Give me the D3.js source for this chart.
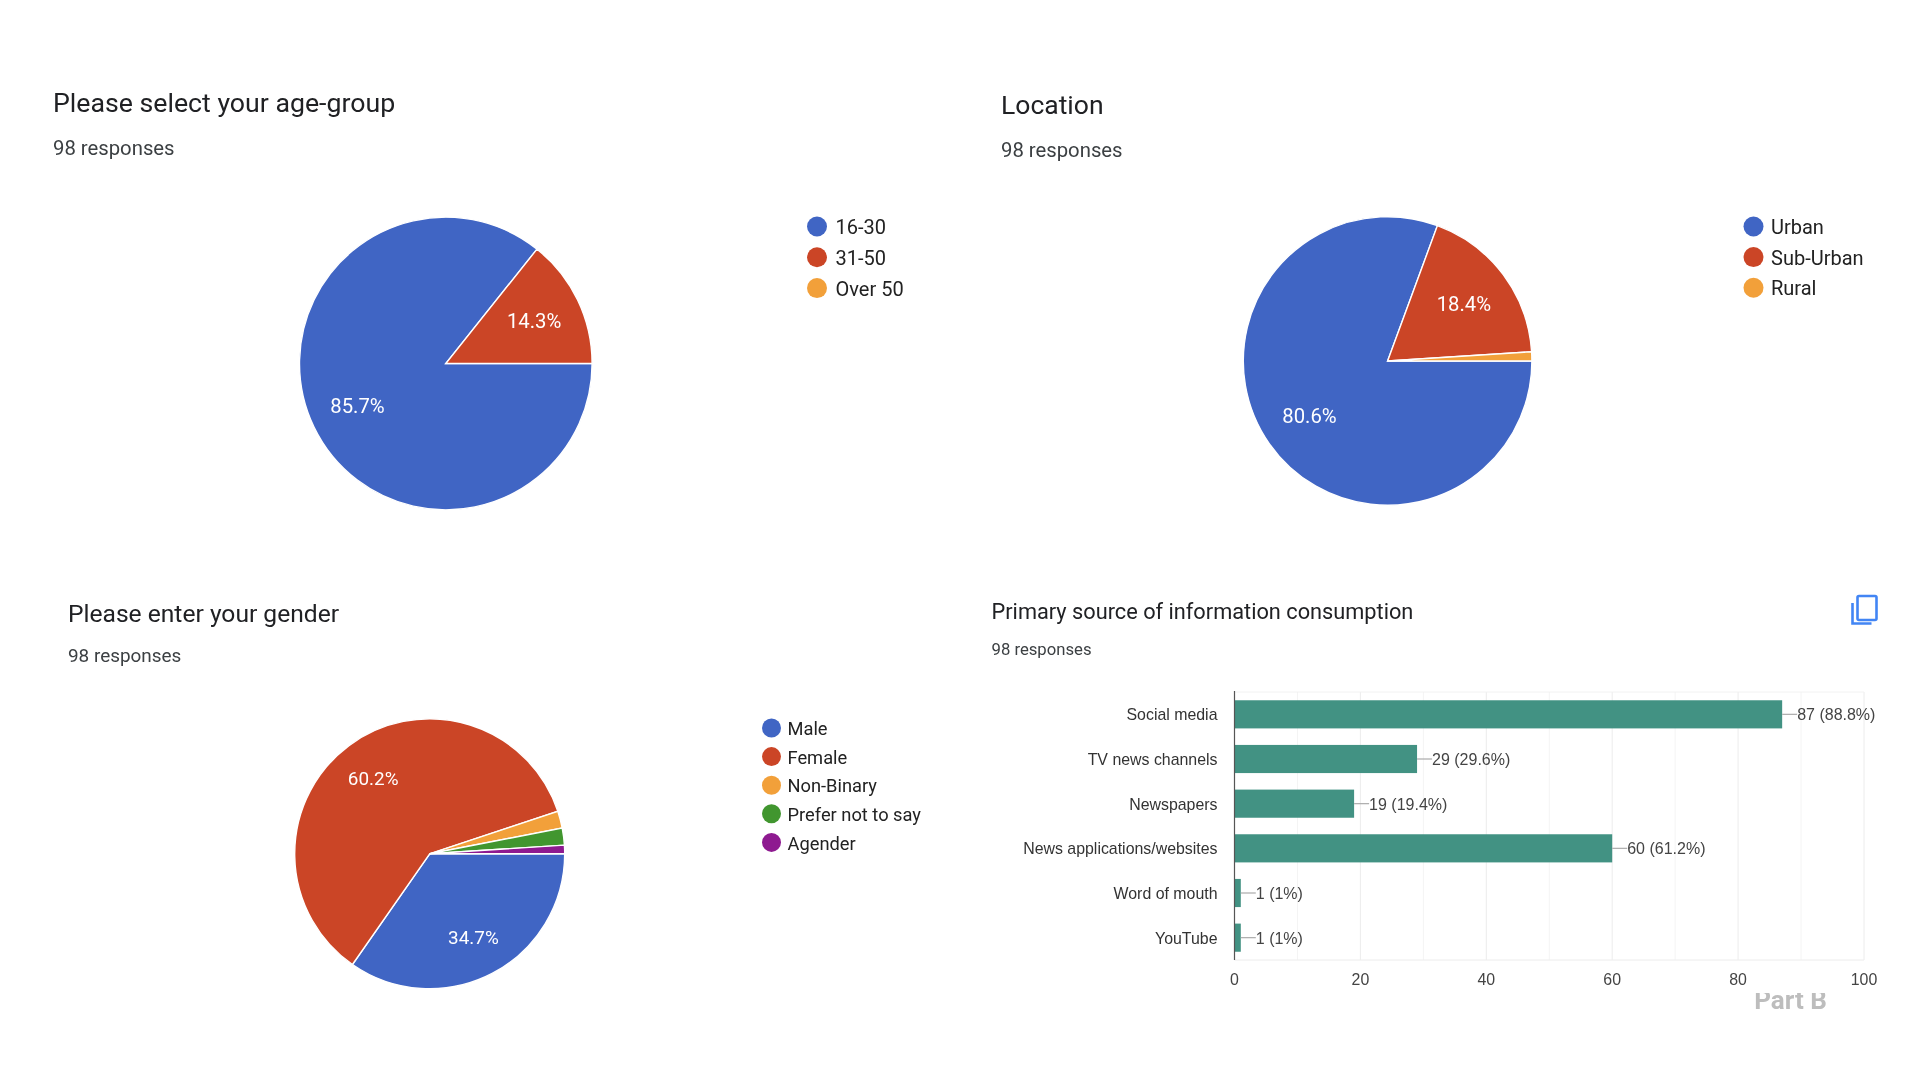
<!DOCTYPE html>
<html><head><meta charset="utf-8">
<script src="https://cdn.jsdelivr.net/npm/d3@7"></script>
<style>html,body{margin:0;background:#fff}svg{display:block;filter:blur(0.45px)}text{font-family:Roboto,Arial,sans-serif}</style>
</head><body><svg id="c" width="1920" height="1080"></svg>
<script>
const responsesLabel = "98 responses";
const ageLabels = ["16-30","31-50","Over 50"];
const ageCounts = [84,14,0];
const locationLabels = ["Urban","Sub-Urban","Rural"];
const locationCounts = [79,18,1];
const genderLabels = ["Male","Female","Non-Binary","Prefer not to say","Agender"];
const genderCounts = [34,59,2,2,1];
const sourceLabels = ["Social media","TV news channels","Newspapers","News applications/websites","Word of mouth","YouTube"];
const sourceCounts = [87,29,19,60,1,1];
const sourcePercents = ["88.8%","29.6%","19.4%","61.2%","1%","1%"];
const xTicks = [0,20,40,60,80,100];
const xMinorTicks = [10,30,50,70,90];
const palette = ["#4065c4","#cb4526","#f2a03a","#41962f","#8e1a90"];
const barColor = "#429283";

const svg = d3.select("#c");

function header(x, y1, y2, title, fs1, fs2){
  svg.append("text").attr("x",x).attr("y",y1).attr("font-size",fs1).attr("fill","#202124").text(title);
  svg.append("text").attr("x",x).attr("y",y2).attr("font-size",fs2).attr("fill","#3c4043").text(responsesLabel);
}
function pieChart(o){
  const g = svg.append("g").attr("transform",`translate(${o.cx},${o.cy})`);
  const total = d3.sum(o.counts);
  const pie = d3.pie().sort(null).startAngle(Math.PI/2).endAngle(Math.PI*2.5);
  const arc = d3.arc().innerRadius(0).outerRadius(o.r);
  const arcs = pie(o.counts);
  g.selectAll("path").data(arcs.filter(d=>d.value>0)).join("path")
    .attr("d",arc).attr("fill",d=>palette[d.index]).attr("stroke","#fff").attr("stroke-width",1.4);
  const lab = d3.arc().innerRadius(o.r*o.labelRatio).outerRadius(o.r*o.labelRatio);
  g.selectAll("text").data(arcs.filter(d=>d.value/total>0.05)).join("text")
    .attr("transform",d=>`translate(${lab.centroid(d)})`)
    .attr("text-anchor","middle").attr("dy","0.35em").attr("fill","#fff")
    .attr("font-size",o.valueSize).text(d=>(d.value/total*100).toFixed(1)+"%");
  const lg = svg.append("g");
  o.labels.forEach((t,i)=>{
    const y = o.legY + i*o.legStep;
    lg.append("circle").attr("cx",o.legX).attr("cy",y).attr("r",o.legR).attr("fill",palette[i]);
    lg.append("text").attr("x",o.legX+o.legGap).attr("y",y+o.legDy).attr("dy","0.35em")
      .attr("font-size",o.legSize).attr("fill","#222").text(t);
  });
}
header(53,112,155,"Please select your age-group",26.7,20.3);
pieChart({cx:445.8,cy:363.5,r:146.3,counts:ageCounts,labels:ageLabels,valueSize:20.3,labelRatio:0.67,legX:817,legY:226.5,legStep:30.8,legR:10,legGap:18.5,legDy:0.5,legSize:20});
header(1001,114,156.5,"Location",26.5,20.3);
pieChart({cx:1387.6,cy:361,r:144.3,counts:locationCounts,labels:locationLabels,valueSize:20.3,labelRatio:0.66,legX:1753.5,legY:226.5,legStep:30.6,legR:10,legGap:17.5,legDy:0.5,legSize:20});
header(68,622,662,"Please enter your gender",24.6,18.9);
pieChart({cx:429.7,cy:853.8,r:135,counts:genderCounts,labels:genderLabels,valueSize:18.9,labelRatio:0.70,legX:771.5,legY:728,legStep:28.6,legR:9.5,legGap:16,legDy:0.8,legSize:18.3});

// Bar chart
header(991.5,619,654.5,"Primary source of information consumption",21.75,16.7);
const x = d3.scaleLinear().domain([0,100]).range([1234.5,1864]);
const y = d3.scaleBand().domain(sourceLabels).range([692,960]).paddingInner(0.37).paddingOuter(0.185);
const gb = svg.append("g");
gb.selectAll("line.minor").data(xMinorTicks.concat(xTicks)).join("line")
  .attr("x1",d=>x(d)).attr("x2",d=>x(d)).attr("y1",692).attr("y2",960)
  .attr("stroke",d=>xTicks.includes(d)?"#ececec":"#f4f4f4");
gb.append("line").attr("x1",x(0)).attr("x2",x(100)).attr("y1",692).attr("y2",692).attr("stroke","#f2f2f2");
gb.append("line").attr("x1",x(0)).attr("x2",x(100)).attr("y1",960).attr("y2",960).attr("stroke","#ececec");
const rows = sourceLabels.map((l,i)=>({l,v:sourceCounts[i],p:sourcePercents[i]}));
gb.selectAll("rect").data(rows).join("rect")
  .attr("x",x(0)).attr("y",d=>y(d.l)).attr("width",d=>x(d.v)-x(0)).attr("height",y.bandwidth())
  .attr("fill",barColor);
gb.selectAll("line.lead").data(rows).join("line").attr("class","lead")
  .attr("x1",d=>x(d.v)).attr("x2",d=>x(d.v)+15).attr("y1",d=>y(d.l)+y.bandwidth()/2).attr("y2",d=>y(d.l)+y.bandwidth()/2)
  .attr("stroke","#aaa").attr("stroke-width",1.2);
gb.selectAll("text.val").data(rows).join("text").attr("class","val")
  .attr("x",d=>x(d.v)+15).attr("y",d=>y(d.l)+y.bandwidth()/2+0.3).attr("dy","0.35em")
  .style("font-family","'Liberation Sans',Arial")
  .attr("font-size",16).attr("fill","#444").text(d=>`${d.v} (${d.p})`);
gb.selectAll("text.cat").data(rows).join("text").attr("class","cat")
  .attr("x",x(0)-17).attr("y",d=>y(d.l)+y.bandwidth()/2+0.5).attr("dy","0.35em").attr("text-anchor","end")
  .style("font-family","'Liberation Sans',Arial").attr("font-size",15.9).attr("fill","#333").text(d=>d.l);
gb.append("line").attr("x1",x(0)).attr("x2",x(0)).attr("y1",691).attr("y2",960).attr("stroke","#555").attr("stroke-width",1.2);
gb.selectAll("text.tick").data(xTicks).join("text").attr("class","tick")
  .attr("x",d=>x(d)).attr("y",979).attr("text-anchor","middle").attr("dy","0.35em")
  .style("font-family","'Liberation Sans',Arial").attr("font-size",15.9).attr("fill","#444").text(d=>d);

// copy icon
const ic = svg.append("g").attr("fill","none").attr("stroke","#4285f4").attr("stroke-width",2.6);
ic.append("rect").attr("x",1857.5).attr("y",596).attr("width",19).attr("height",24).attr("rx",1.5);
ic.append("path").attr("d","M1852.5 603V623.5H1871.5");

// clipped watermark
svg.append("clipPath").attr("id","pb").append("rect").attr("x",1740).attr("y",993).attr("width",120).attr("height",20);
svg.append("text").attr("x",1790.5).attr("y",1008.5).attr("text-anchor","middle").attr("clip-path","url(#pb)")
  .style("font-family","Roboto").attr("font-size",26).attr("font-weight",700).attr("fill","#bdbdbd").text("Part B");
</script></body></html>
